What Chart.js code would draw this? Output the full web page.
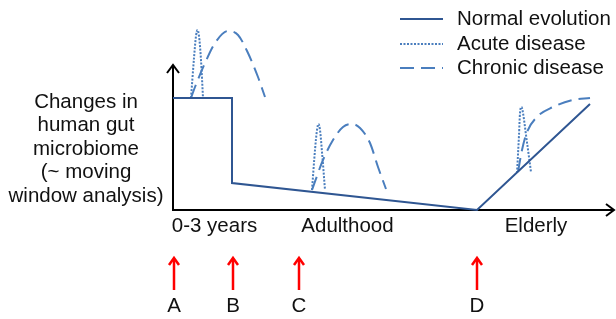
<!DOCTYPE html>
<html lang="en">
<head>
<meta charset="UTF-8">
<script src="https://cdn.jsdelivr.net/npm/chart.js"></script>
<title>Gut microbiome over life</title>
<style>
  body { margin: 0; background: #fff; }
  #wrap { width: 616px; height: 319px; }
</style>
</head>
<body>
<div id="wrap"><canvas id="myChart"></canvas></div>
<script>
// x = position along the life axis, y = change level above the baseline
const normalX = [0, 59, 59, 304, 417];
const normalY = [112, 112, 27, 0, 106];

const acute1X = [18, 21, 23, 24.5, 26, 28, 30];
const acute1Y = [112, 152, 174, 180, 174, 150, 112];
const acute2X = [139, 142, 144, 145.5, 147, 149, 152];
const acute2Y = [20, 60, 80, 86, 80, 58, 20];
const acute3X = [344, 346, 347, 348.5, 350, 353, 358];
const acute3Y = [37, 75, 97, 103, 97, 75, 38];

const chronic1X = [18, 22, 32, 42, 55, 65, 75, 85, 92];
const chronic1Y = [112, 123, 147, 167, 179, 175, 157, 133, 113];
const chronic2X = [139, 150, 160, 170, 179, 187, 197, 205, 213];
const chronic2Y = [20, 50, 70, 83, 86, 82, 67, 43, 21];
const chronic3X = [345, 349, 354, 364, 380, 400, 417];
const chronic3Y = [38, 60, 78, 93, 103, 110, 112];

const stageLabels = ['0-3 years', 'Adulthood', 'Elderly'];
const stageX = [41.5, 174.5, 363];
const markerLabels = ['A', 'B', 'C', 'D'];
const markerX = [1, 60, 126, 304];
const yTitle = ['Changes in', 'human gut', 'microbiome', '(~ moving', 'window analysis)'];

const axisTop = 145;
const axisEnd = 441;

function pts(xs, ys) {
    return xs.map((v, i) => ({ x: v, y: ys[i] }));
}
function joined(list) {
    let out = [];
    list.forEach((seg, i) => {
        if (i > 0) out.push({ x: seg[0].x - 0.5, y: null });
        out = out.concat(seg);
    });
    return out;
}

const FONT = '"Liberation Sans", Arial, sans-serif';
const darkBlue = '#2f5692';
const lightBlue = '#4a7ebe';

function chevron(ctx, px, py, dir, w, h) {
    ctx.beginPath();
    if (dir === 'up') {
        ctx.moveTo(px - w, py + h); ctx.lineTo(px, py); ctx.lineTo(px + w, py + h);
    } else {
        ctx.moveTo(px - h, py - w); ctx.lineTo(px, py); ctx.lineTo(px - h, py + w);
    }
    ctx.stroke();
}

const overlay = {
    id: 'overlay',
    beforeDatasetsDraw(chart) {
        const { ctx, scales: { x, y } } = chart;
        const x0 = x.getPixelForValue(0), y0 = y.getPixelForValue(0);
        const yt = y.getPixelForValue(axisTop), xe = x.getPixelForValue(axisEnd);
        ctx.save();
        ctx.strokeStyle = '#000';
        ctx.lineWidth = 2;
        ctx.beginPath();
        ctx.moveTo(x0, yt); ctx.lineTo(x0, y0); ctx.lineTo(xe, y0);
        ctx.stroke();
        chevron(ctx, x0, yt, 'up', 6, 8);
        chevron(ctx, xe, y0, 'right', 6, 8);
        ctx.restore();
    },
    afterDatasetsDraw(chart) {
        const { ctx, scales: { x, y } } = chart;
        ctx.save();
        ctx.fillStyle = '#111';
        ctx.font = '20.5px ' + FONT;
        ctx.textAlign = 'center';
        ctx.textBaseline = 'middle';

        // y title
        yTitle.forEach((t, i) => {
            ctx.fillText(t, x.getPixelForValue(-87), y.getPixelForValue(108 - i * 23.5));
        });
        // stage labels
        stageLabels.forEach((t, i) => {
            ctx.fillText(t, x.getPixelForValue(stageX[i]), y.getPixelForValue(-16));
        });
        // red markers
        markerLabels.forEach((t, i) => {
            const px = x.getPixelForValue(markerX[i]);
            const top = y.getPixelForValue(-48), bot = y.getPixelForValue(-80);
            ctx.strokeStyle = '#ff0000';
            ctx.lineWidth = 2.5;
            ctx.beginPath();
            ctx.moveTo(px, bot); ctx.lineTo(px, top + 1);
            ctx.stroke();
            chevron(ctx, px, top, 'up', 5, 7);
            ctx.fillStyle = '#111';
            ctx.fillText(t, px, y.getPixelForValue(-96));
        });

        // legend
        ctx.textAlign = 'left';
        const rows = [191, 166, 142];
        chart.data.datasets.forEach((ds, i) => {
            const py = y.getPixelForValue(rows[i]);
            ctx.strokeStyle = ds.borderColor;
            ctx.lineWidth = ds.borderWidth;
            ctx.setLineDash(ds.borderDash || []);
            ctx.beginPath();
            ctx.moveTo(x.getPixelForValue(227), py);
            ctx.lineTo(x.getPixelForValue(270), py);
            ctx.stroke();
            ctx.setLineDash([]);
            ctx.fillStyle = '#111';
            ctx.fillText(ds.label, x.getPixelForValue(284), py);
        });
        ctx.restore();
    }
};

new Chart(document.getElementById('myChart'), {
    type: 'line',
    data: {
        datasets: [{
            label: 'Normal evolution',
            data: pts(normalX, normalY),
            borderColor: darkBlue,
            borderWidth: 2,
            tension: 0
        }, {
            label: 'Acute disease',
            data: joined([pts(acute1X, acute1Y), pts(acute2X, acute2Y), pts(acute3X, acute3Y)]),
            borderColor: lightBlue,
            borderWidth: 2,
            borderDash: [2, 1.5],
            cubicInterpolationMode: 'monotone'
        }, {
            label: 'Chronic disease',
            data: joined([pts(chronic1X, chronic1Y), pts(chronic2X, chronic2Y), pts(chronic3X, chronic3Y)]),
            borderColor: lightBlue,
            borderWidth: 2,
            borderDash: [14, 7],
            cubicInterpolationMode: 'monotone'
        }]
    },
    options: {
        responsive: true,
        maintainAspectRatio: false,
        animation: false,
        spanGaps: false,
        layout: { padding: 0 },
        elements: { point: { radius: 0 } },
        plugins: { legend: { display: false }, tooltip: { enabled: false } },
        scales: {
            x: { type: 'linear', min: -173, max: 443, display: false },
            y: { type: 'linear', min: -109, max: 210, display: false }
        }
    },
    plugins: [overlay]
});
</script>
</body>
</html>
